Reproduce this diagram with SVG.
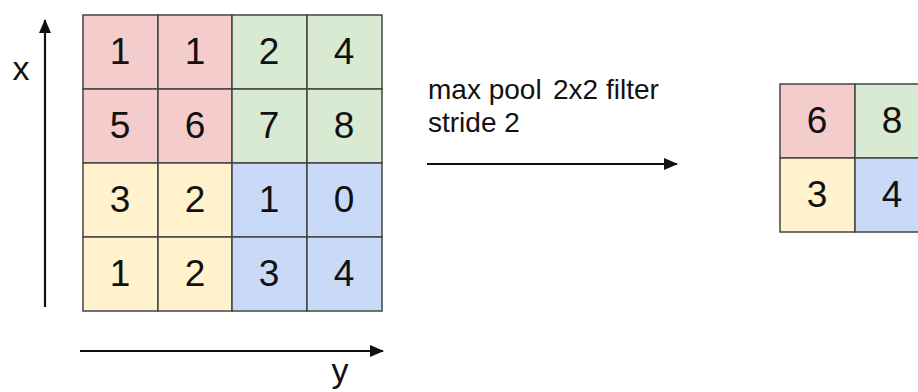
<svg xmlns="http://www.w3.org/2000/svg" width="918" height="392" viewBox="0 0 918 392">
<defs>
<marker id="ah" markerWidth="14" markerHeight="12" refX="13" refY="6" orient="auto" markerUnits="userSpaceOnUse">
<path d="M0,0 L14,6 L0,12 Z" fill="#111"/>
</marker>
<style>
.c{stroke:#444;stroke-width:1.5}
.r{fill:#f4cccc}.g{fill:#d9ead3}.yl{fill:#fff2cc}.b{fill:#c9daf8}
.n{font-family:"Liberation Sans",Arial,sans-serif;font-size:37px;fill:#111;text-anchor:middle}
.t{font-family:"Liberation Sans",Arial,sans-serif;font-size:28px;fill:#111}
.ax{font-family:"Liberation Sans",Arial,sans-serif;font-size:34px;fill:#111;text-anchor:middle}
.ln{stroke:#111;stroke-width:2.2;fill:none}
</style>
</defs>
<rect width="918" height="392" fill="#fff"/>
<g id="input-grid">
<rect class="c r" x="83" y="15" width="75" height="74"/>
<rect class="c r" x="158" y="15" width="74" height="74"/>
<rect class="c g" x="232" y="15" width="75" height="74"/>
<rect class="c g" x="307" y="15" width="75" height="74"/>
<rect class="c r" x="83" y="89" width="75" height="74"/>
<rect class="c r" x="158" y="89" width="74" height="74"/>
<rect class="c g" x="232" y="89" width="75" height="74"/>
<rect class="c g" x="307" y="89" width="75" height="74"/>
<rect class="c yl" x="83" y="163" width="75" height="74"/>
<rect class="c yl" x="158" y="163" width="74" height="74"/>
<rect class="c b" x="232" y="163" width="75" height="74"/>
<rect class="c b" x="307" y="163" width="75" height="74"/>
<rect class="c yl" x="83" y="237" width="75" height="74"/>
<rect class="c yl" x="158" y="237" width="74" height="74"/>
<rect class="c b" x="232" y="237" width="75" height="74"/>
<rect class="c b" x="307" y="237" width="75" height="74"/>
<text class="n" x="120" y="64">1</text>
<text class="n" x="195" y="64">1</text>
<text class="n" x="269" y="64">2</text>
<text class="n" x="344" y="64">4</text>
<text class="n" x="120" y="138">5</text>
<text class="n" x="195" y="138">6</text>
<text class="n" x="269" y="138">7</text>
<text class="n" x="344" y="138">8</text>
<text class="n" x="120" y="212">3</text>
<text class="n" x="195" y="212">2</text>
<text class="n" x="269" y="212">1</text>
<text class="n" x="344" y="212">0</text>
<text class="n" x="120" y="286">1</text>
<text class="n" x="195" y="286">2</text>
<text class="n" x="269" y="286">3</text>
<text class="n" x="344" y="286">4</text>
</g>
<g id="output-grid">
<rect class="c r" x="780" y="84" width="75" height="74"/>
<rect class="c g" x="855" y="84" width="75" height="74"/>
<rect class="c yl" x="780" y="158" width="75" height="74"/>
<rect class="c b" x="855" y="158" width="75" height="74"/>
<text class="n" x="817" y="133">6</text>
<text class="n" x="892" y="133">8</text>
<text class="n" x="817" y="207">3</text>
<text class="n" x="892" y="207">4</text>
</g>
<g id="labels">
<text class="ax" x="21" y="80">x</text>
<text class="ax" x="340" y="382">y</text>
<text class="t" x="428" y="99">max pool</text>
<text class="t" x="553" y="99">2x2 filter</text>
<text class="t" x="428" y="132">stride 2</text>
</g>
<g id="connectors">
<line class="ln" x1="45" y1="307" x2="45" y2="20" marker-end="url(#ah)"/>
<line class="ln" x1="80" y1="351" x2="383" y2="351" marker-end="url(#ah)"/>
<line class="ln" x1="427" y1="164" x2="677" y2="164" marker-end="url(#ah)"/>
</g>
</svg>
